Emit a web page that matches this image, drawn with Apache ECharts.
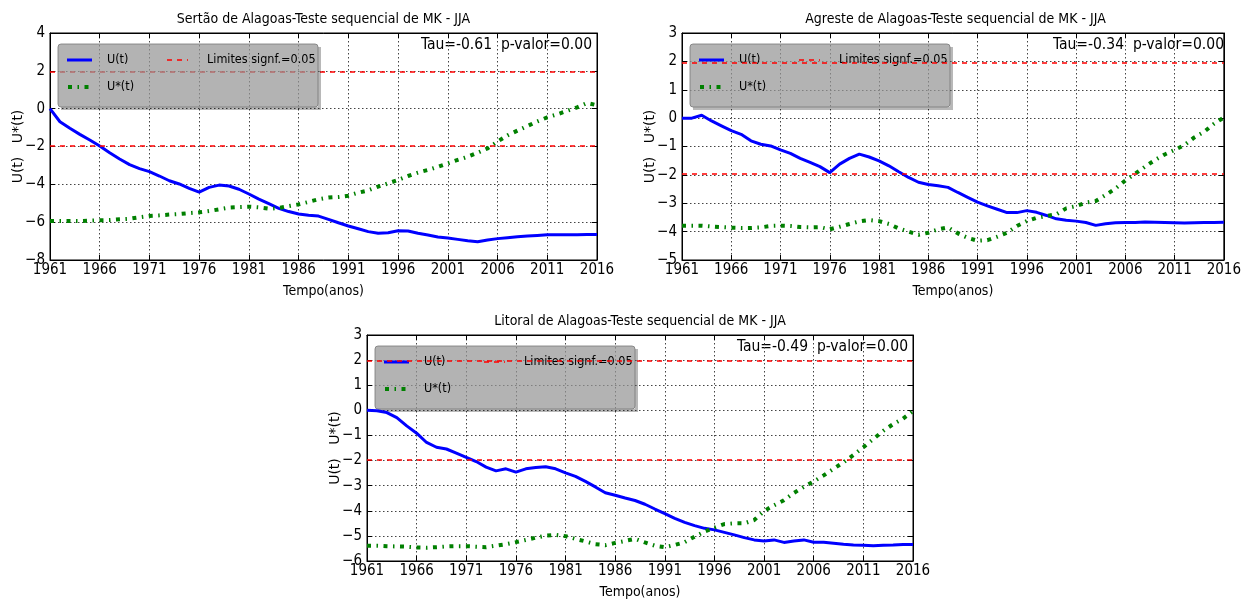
<!DOCTYPE html>
<html>
<head>
<meta charset="utf-8">
<script src="https://cdn.jsdelivr.net/npm/echarts@6/dist/echarts.min.js"></script>
<style>
  html, body { margin: 0; padding: 0; background: #fff; }
  #chart { width: 1244px; height: 600px; }
</style>
</head>
<body>
<div id="chart"></div>
<script>
// Sequential Mann-Kendall test, JJA season, three regions of Alagoas (1961-2016)
const years = [];
for (let y = 1961; y <= 2016; y++) years.push(String(y));

// Sertão
const sertaoU = [
  0.0, -0.69, -1.04, -1.36, -1.66, -1.97, -2.33, -2.66, -2.96, -3.17,
  -3.33, -3.56, -3.81, -3.98, -4.21, -4.41, -4.16, -4.04, -4.09, -4.26,
  -4.51, -4.78, -5.02, -5.27, -5.44, -5.57, -5.64, -5.68, -5.85, -6.03,
  -6.2, -6.35, -6.5, -6.59, -6.56, -6.45, -6.47, -6.59, -6.68, -6.78,
  -6.84, -6.91, -6.98, -7.03, -6.94, -6.87, -6.82, -6.77, -6.73, -6.7,
  -6.67, -6.66, -6.66, -6.66, -6.65, -6.65
];
const sertaoUstar = [
  -5.94, -5.94, -5.94, -5.94, -5.92, -5.9, -5.89, -5.85, -5.82, -5.74,
  -5.67, -5.64, -5.6, -5.57, -5.52, -5.48, -5.41, -5.32, -5.23, -5.2,
  -5.18, -5.22, -5.29, -5.25, -5.15, -5.06, -4.93, -4.79, -4.7, -4.67,
  -4.6, -4.44, -4.32, -4.12, -3.95, -3.77, -3.56, -3.38, -3.24, -3.07,
  -2.89, -2.71, -2.54, -2.33, -2.1, -1.74, -1.41, -1.16, -0.92, -0.67,
  -0.46, -0.3, -0.11, 0.07, 0.3, 0.18
];

// Agreste
const agresteU = [
  0.0, 0.0, 0.1, -0.1, -0.27, -0.44, -0.57, -0.8, -0.92, -0.98,
  -1.12, -1.24, -1.42, -1.56, -1.71, -1.92, -1.62, -1.42, -1.27, -1.37,
  -1.51, -1.68, -1.89, -2.09, -2.26, -2.34, -2.38, -2.44, -2.62, -2.79,
  -2.96, -3.09, -3.21, -3.33, -3.33, -3.26, -3.32, -3.43, -3.55, -3.6,
  -3.63, -3.68, -3.78, -3.72, -3.69, -3.68, -3.68, -3.66, -3.67, -3.68,
  -3.69, -3.7, -3.69, -3.68, -3.68, -3.67
];
const agresteUstar = [
  -3.79, -3.79, -3.79, -3.82, -3.84, -3.86, -3.87, -3.87, -3.85, -3.8,
  -3.79, -3.8, -3.84, -3.85, -3.84, -3.92, -3.83, -3.73, -3.64, -3.59,
  -3.63, -3.73, -3.89, -4.0, -4.11, -4.04, -3.92, -3.85, -4.06, -4.22,
  -4.32, -4.3, -4.18, -4.04, -3.8, -3.63, -3.51, -3.45, -3.39, -3.18,
  -3.1, -2.98, -2.92, -2.71, -2.48, -2.2, -1.96, -1.71, -1.48, -1.28,
  -1.12, -0.95, -0.68, -0.48, -0.2, 0.02
];

// Litoral
const litoralU = [
  0.0, -0.02, -0.09, -0.29, -0.62, -0.91, -1.28, -1.47, -1.54, -1.7,
  -1.87, -2.04, -2.26, -2.41, -2.33, -2.46, -2.33, -2.28, -2.25, -2.33,
  -2.49, -2.63, -2.83, -3.05, -3.28, -3.38, -3.49, -3.59, -3.74, -3.93,
  -4.11, -4.3, -4.46, -4.59, -4.7, -4.76, -4.86, -4.96, -5.07, -5.16,
  -5.2, -5.16, -5.26, -5.2, -5.16, -5.25, -5.25, -5.29, -5.33, -5.36,
  -5.37, -5.39, -5.37, -5.36, -5.34, -5.34
];
const litoralUstar = [
  -5.39, -5.39, -5.41, -5.42, -5.43, -5.46, -5.47, -5.45, -5.42, -5.41,
  -5.41, -5.43, -5.45, -5.39, -5.33, -5.25, -5.16, -5.07, -4.99, -4.96,
  -5.01, -5.12, -5.22, -5.33, -5.37, -5.28, -5.2, -5.12, -5.26, -5.39,
  -5.45, -5.36, -5.25, -5.03, -4.83, -4.67, -4.53, -4.5, -4.5, -4.37,
  -4.01, -3.78, -3.58, -3.29, -3.05, -2.83, -2.59, -2.33, -2.07, -1.78,
  -1.47, -1.14, -0.82, -0.55, -0.33, -0.03
];

// Significance limit (alpha = 0.05)
const limit = 1.96;

const titles = [
  'Sertão de Alagoas-Teste sequencial de MK - JJA',
  'Agreste de Alagoas-Teste sequencial de MK - JJA',
  'Litoral de Alagoas-Teste sequencial de MK - JJA'
];
const stats = ['Tau=-0.61  p-valor=0.00', 'Tau=-0.34  p-valor=0.00', 'Tau=-0.49  p-valor=0.00'];
const uSeries = [sertaoU, agresteU, litoralU];
const uStarSeries = [sertaoUstar, agresteUstar, litoralUstar];
const yRanges = [
  { min: -8, max: 4, interval: 2 },
  { min: -5, max: 3, interval: 1 },
  { min: -6, max: 3, interval: 1 }
];

// Layout of the three panels (pixels)
const layout = [
  { left: 50, top: 33, width: 547, height: 227, legendOnTop: true },
  { left: 682, top: 33, width: 547, height: 227, legendOnTop: false },
  { left: 367, top: 335, width: 546, height: 228, legendOnTop: false }
];

const NARROW = "'Liberation Sans Narrow', 'DejaVu Sans Condensed', 'DejaVu Sans', sans-serif";
const BLUE = '#0000ff';
const GREEN = '#008000';
const RED = '#ff0000';
const uStarDash = [4, 5.5, 1.5, 5.5];
const redDash = [5, 5];
const gridDash = [1.5, 2.5];
const minus = v => String(v).replace('-', '\u2212');

const grid = [], xAxis = [], yAxis = [], series = [], graphic = [];

layout.forEach((g, i) => {
  grid.push({
    left: g.left, top: g.top, width: g.width, height: g.height,
    show: true, borderColor: '#000', borderWidth: 1, backgroundColor: 'transparent'
  });

  // bottom axis with labels and dotted grid
  xAxis.push({
    gridIndex: i, type: 'category', data: years, boundaryGap: false, position: 'bottom',
    axisLine: { show: true, onZero: false, lineStyle: { color: '#000', width: 1 } },
    axisTick: { show: true, inside: true, interval: 4, length: 5, lineStyle: { color: '#000' } },
    axisLabel: { interval: 4, margin: 3, color: '#000', fontFamily: NARROW, fontSize: 15 },
    splitLine: { show: true, interval: 4, lineStyle: { color: '#444', type: gridDash, width: 1 } },
    name: 'Tempo(anos)', nameLocation: 'middle', nameGap: 24, nameMoveOverlap: false,
    nameTextStyle: { color: '#000', fontFamily: NARROW, fontSize: 14 }
  });
  // mirrored top axis (ticks only)
  xAxis.push({
    gridIndex: i, type: 'category', data: years, boundaryGap: false, position: 'top',
    axisLine: { show: true, onZero: false, lineStyle: { color: '#000', width: 1 } },
    axisTick: { show: true, inside: true, interval: 4, length: 5, lineStyle: { color: '#000' } },
    axisLabel: { show: false }, splitLine: { show: false }
  });

  const r = yRanges[i];
  yAxis.push({
    gridIndex: i, type: 'value', min: r.min, max: r.max, interval: r.interval, position: 'left',
    axisLine: { show: true, onZero: false, lineStyle: { color: '#000', width: 1 } },
    axisTick: { show: true, inside: true, length: 5, lineStyle: { color: '#000' } },
    axisLabel: { margin: 5, color: '#000', fontFamily: NARROW, fontSize: 15, formatter: minus },
    splitLine: { show: true, lineStyle: { color: '#444', type: gridDash, width: 1 } },
    name: 'U(t)   U*(t)', nameLocation: 'middle', nameGap: 25, nameRotate: 90, nameMoveOverlap: false,
    nameTextStyle: { color: '#000', fontFamily: "'DejaVu Sans', sans-serif", fontSize: 14 }
  });
  yAxis.push({
    gridIndex: i, type: 'value', min: r.min, max: r.max, interval: r.interval, position: 'right',
    axisLine: { show: true, onZero: false, lineStyle: { color: '#000', width: 1 } },
    axisTick: { show: true, inside: true, length: 5, lineStyle: { color: '#000' } },
    axisLabel: { show: false }, splitLine: { show: false }
  });

  series.push({
    name: 'U(t)', type: 'line', xAxisIndex: 2 * i, yAxisIndex: 2 * i,
    data: uSeries[i], symbol: 'none', z: 3,
    lineStyle: { color: BLUE, width: 3 },
    markLine: {
      silent: true, symbol: 'none', animation: false,
      label: { show: false },
      lineStyle: { color: RED, type: redDash, width: 1.5 },
      data: [{ yAxis: limit }, { yAxis: -limit }]
    }
  });
  series.push({
    name: 'U*(t)', type: 'line', xAxisIndex: 2 * i, yAxisIndex: 2 * i,
    data: uStarSeries[i], symbol: 'none', z: 3,
    lineStyle: { color: GREEN, width: 4, type: uStarDash, cap: 'butt' }
  });

  // panel title
  graphic.push({
    type: 'text', x: g.left + g.width / 2, y: g.top - 14,
    style: { text: titles[i], align: 'center', verticalAlign: 'middle', font: '14px ' + NARROW, fill: '#000' }
  });
  // statistic text
  graphic.push({
    type: 'text', x: g.left + g.width - 5, y: g.top + 12,
    style: { text: stats[i], align: 'right', verticalAlign: 'middle', font: '15.5px ' + NARROW, fill: '#000' }
  });

  // legend box with a soft drop shadow on its right and bottom edges
  const bx = g.left + 8, by = g.top + 11, bw = 260, bh = 63;
  const z = g.legendOnTop ? 10 : 1;
  const shadow = 'rgba(0,0,0,0.28)';
  const font = '12.5px ' + NARROW;
  graphic.push({
    type: 'group', x: bx, y: by, z: z,
    children: [
      { type: 'rect', z: z, shape: { x: bw, y: 3, width: 3, height: bh }, style: { fill: shadow } },
      { type: 'rect', z: z, shape: { x: 3, y: bh, width: bw - 3, height: 3 }, style: { fill: shadow } },
      { type: 'rect', z: z, shape: { x: 0, y: 0, width: bw, height: bh, r: 3 },
        style: { fill: 'rgba(150,150,150,0.72)', stroke: 'rgba(120,120,120,0.8)', lineWidth: 1 } },
      { type: 'line', z: z, shape: { x1: 9, y1: 16, x2: 34, y2: 16 }, style: { stroke: BLUE, lineWidth: 3 } },
      { type: 'text', z: z, x: 49, y: 16, style: { text: 'U(t)', verticalAlign: 'middle', font: font, fill: '#000' } },
      { type: 'line', z: z, shape: { x1: 109, y1: 16, x2: 130, y2: 16 }, style: { stroke: RED, lineWidth: 1.5, lineDash: redDash } },
      { type: 'text', z: z, x: 149, y: 16, style: { text: 'Limites signf.=0.05', verticalAlign: 'middle', font: font, fill: '#000' } },
      { type: 'line', z: z, shape: { x1: 10, y1: 43, x2: 31, y2: 43 }, style: { stroke: GREEN, lineWidth: 4, lineDash: uStarDash } },
      { type: 'text', z: z, x: 49, y: 43, style: { text: 'U*(t)', verticalAlign: 'middle', font: font, fill: '#000' } }
    ]
  });
});

const chart = echarts.init(document.getElementById('chart'), null, { renderer: 'canvas' });
chart.setOption({
  animation: false,
  backgroundColor: '#fff',
  grid, xAxis, yAxis, series, graphic
});
</script>
</body>
</html>
